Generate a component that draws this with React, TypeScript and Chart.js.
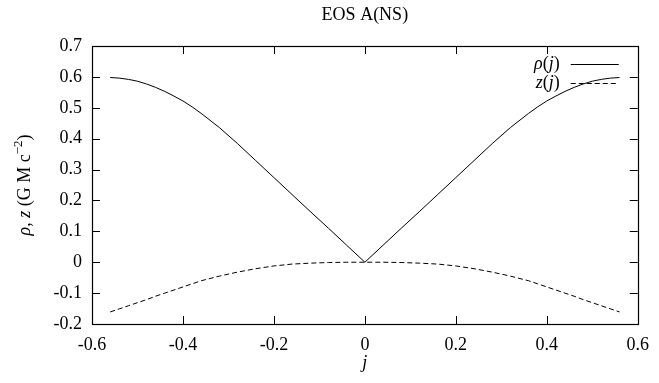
import { useEffect, useRef } from "react";
import { Chart, registerables } from "chart.js";

Chart.register(...registerables);

const titleText = "EOS A(NS)";
const jValues = [
  -0.56, -0.54, -0.52, -0.5, -0.48, -0.46, -0.44, -0.42, -0.4, -0.38, -0.36, -0.32, -0.28, -0.24, -0.2, -0.16,
  -0.12, -0.08, -0.04, 0, 0.04, 0.08, 0.12, 0.16, 0.2, 0.24, 0.28, 0.32, 0.36, 0.38, 0.4, 0.42, 0.44, 0.46,
  0.48, 0.5, 0.52, 0.54, 0.56,
];
const rhoValues = [
  0.598, 0.596, 0.592, 0.586, 0.577, 0.566, 0.553, 0.538, 0.522, 0.503, 0.482, 0.436, 0.384, 0.329, 0.274, 0.219,
  0.164, 0.11, 0.055, 0, 0.055, 0.11, 0.164, 0.219, 0.274, 0.329, 0.384, 0.436, 0.482, 0.503, 0.522, 0.538, 0.553,
  0.566, 0.577, 0.586, 0.592, 0.596, 0.598,
];
const zValues = [
  -0.161, -0.151, -0.141, -0.131, -0.121, -0.11, -0.1, -0.09, -0.08, -0.07, -0.06, -0.045, -0.032, -0.021, -0.012,
  -0.006, -0.003, -0.001, 0, 0, 0, -0.001, -0.003, -0.006, -0.012, -0.021, -0.032, -0.045, -0.06, -0.07, -0.08,
  -0.09, -0.1, -0.11, -0.121, -0.131, -0.141, -0.151, -0.161,
];
const xTicks = [-0.6, -0.4, -0.2, 0, 0.2, 0.4, 0.6];
const yTicks = [-0.2, -0.1, 0, 0.1, 0.2, 0.3, 0.4, 0.5, 0.6, 0.7];
const seriesLabels = ["ρ(j)", "z(j)"];

const FONT = "'Liberation Serif', 'DejaVu Serif', serif";
const FS = 18;

Chart.defaults.font.family = FONT;
Chart.defaults.font.size = FS;
Chart.defaults.color = "#000";

type Seg = { t: string; it?: boolean; sup?: boolean };

function segFont(s: Seg, size: number) {
  const sz = s.sup ? Math.round(size * 0.7) : size;
  return `${s.it ? "italic " : ""}${sz}px ${FONT}`;
}

function drawRich(ctx: CanvasRenderingContext2D, segs: Seg[], x: number, y: number, size: number, align: "left" | "center" | "right") {
  let total = 0;
  for (const s of segs) {
    ctx.font = segFont(s, size);
    total += ctx.measureText(s.t).width;
  }
  let cx = align === "left" ? x : align === "center" ? x - total / 2 : x - total;
  ctx.textAlign = "left";
  ctx.textBaseline = "middle";
  for (const s of segs) {
    ctx.font = segFont(s, size);
    ctx.fillText(s.t, cx, s.sup ? y - size * 0.38 : y);
    cx += ctx.measureText(s.t).width;
  }
}

function labelSegs(label: string): Seg[] {
  const m = label.match(/^(.)\((.)\)$/);
  if (!m) return [{ t: label }];
  return [{ t: m[1], it: true }, { t: "(" }, { t: m[2], it: true }, { t: ")" }];
}

const decorPlugin = {
  id: "decor",
  afterDraw(chart: any) {
    const { ctx, chartArea } = chart;
    const { left, right, top, bottom } = chartArea;
    const xs = chart.scales.x;
    const ys = chart.scales.y;
    ctx.save();
    ctx.strokeStyle = "#000";
    ctx.fillStyle = "#000";
    ctx.lineWidth = 1.2;
    ctx.setLineDash([]);
    ctx.strokeRect(Math.round(left) + 0.5, Math.round(top) + 0.5, Math.round(right - left), Math.round(bottom - top));
    const TL = 8;
    ctx.lineWidth = 1;
    ctx.beginPath();
    for (const v of xTicks) {
      const px = Math.round(xs.getPixelForValue(v)) + 0.5;
      ctx.moveTo(px, bottom);
      ctx.lineTo(px, bottom - TL);
      ctx.moveTo(px, top);
      ctx.lineTo(px, top + TL);
    }
    for (const v of yTicks) {
      const py = Math.round(ys.getPixelForValue(v)) + 0.5;
      ctx.moveTo(left, py);
      ctx.lineTo(left + TL, py);
      ctx.moveTo(right, py);
      ctx.lineTo(right - TL, py);
    }
    ctx.stroke();

    // title
    drawRich(ctx, [{ t: titleText }], (left + right) / 2, 15, FS, "center");
    // x title
    drawRich(ctx, [{ t: "j", it: true }], (left + right) / 2, 363, FS, "center");
    // y title
    ctx.save();
    ctx.translate(25, (top + bottom) / 2);
    ctx.rotate(-Math.PI / 2);
    drawRich(
      ctx,
      [
        { t: "ρ", it: true },
        { t: ", " },
        { t: "z", it: true },
        { t: " (G M c" },
        { t: "−2", sup: true },
        { t: ")" },
      ],
      0,
      0,
      FS,
      "center"
    );
    ctx.restore();

    // legend
    const lineR = right - 19;
    const lineL = lineR - 48;
    const textR = lineL - 11;
    const rows = [top + 18, top + 37];
    chart.data.datasets.forEach((ds: any, i: number) => {
      const y = rows[i];
      drawRich(ctx, labelSegs(ds.label), textR, y, FS, "right");
      ctx.strokeStyle = "#000";
      ctx.lineWidth = 1;
      ctx.setLineDash(ds.borderDash || []);
      ctx.beginPath();
      ctx.moveTo(lineL, Math.round(y) + 0.5);
      ctx.lineTo(lineR, Math.round(y) + 0.5);
      ctx.stroke();
    });
    ctx.restore();
  },
};

export default function App() {
  const ref = useRef<HTMLCanvasElement | null>(null);
  useEffect(() => {
    document.body.style.margin = "0";
    const canvas = ref.current;
    if (!canvas) return;
    const tickFont = { family: FONT, size: FS, style: "normal" as const, weight: "normal" as const };
    const chart = new Chart(canvas, {
      type: "line",
      data: {
        datasets: [
          {
            label: seriesLabels[0],
            data: jValues.map((j, i) => ({ x: j, y: rhoValues[i] })),
            borderColor: "#000",
            borderWidth: 1,
            pointRadius: 0,
            tension: 0,
            fill: false,
          },
          {
            label: seriesLabels[1],
            data: jValues.map((j, i) => ({ x: j, y: zValues[i] })),
            borderColor: "#000",
            borderWidth: 1,
            borderDash: [5, 3],
            pointRadius: 0,
            tension: 0,
            fill: false,
          },
        ],
      },
      options: {
        responsive: false,
        animation: false,
        devicePixelRatio: 1,
        font: { family: FONT, size: FS },
        layout: { padding: { top: 46, right: 21, left: 0, bottom: 0 } },
        plugins: { legend: { display: false }, title: { display: false }, tooltip: { enabled: false } },
        scales: {
          x: {
            type: "linear",
            min: -0.6,
            max: 0.6,
            grid: { display: false, drawTicks: false },
            border: { display: false },
            afterBuildTicks: (s: any) => {
              s.ticks = xTicks.map((v) => ({ value: v }));
            },
            afterFit: (s: any) => {
              s.height = 59;
            },
            ticks: {
              autoSkip: false,
              maxRotation: 0,
              padding: 10,
              color: "#000",
              font: tickFont,
              callback: (v: any) => String(Number(Number(v).toFixed(1))),
            },
          },
          y: {
            type: "linear",
            min: -0.2,
            max: 0.7,
            grid: { display: false, drawTicks: false },
            border: { display: false },
            afterBuildTicks: (s: any) => {
              s.ticks = yTicks.map((v) => ({ value: v }));
            },
            afterFit: (s: any) => {
              s.width = 92;
            },
            ticks: {
              autoSkip: false,
              padding: 10,
              color: "#000",
              font: tickFont,
              callback: (v: any) => String(Number(Number(v).toFixed(1))),
            },
          },
        },
      },
      plugins: [decorPlugin],
    } as any);
    return () => chart.destroy();
  }, []);
  return (
    <div style={{ width: 659, height: 383, background: "#fff" }}>
      <canvas ref={ref} width={659} height={383} style={{ display: "block" }} />
    </div>
  );
}
